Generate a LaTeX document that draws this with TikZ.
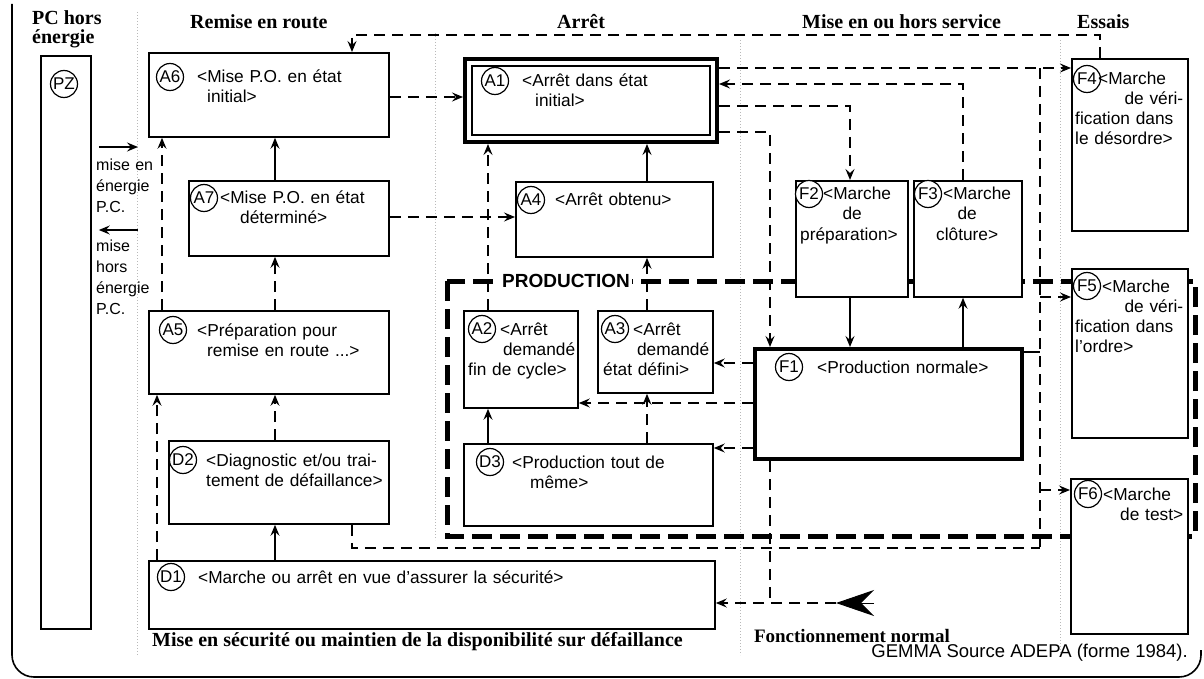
\documentclass[tikz,border=0pt]{standalone}
\usepackage{fontspec}
\setmainfont{Liberation Sans}
\newfontfamily\headfont{Liberation Serif}
\usetikzlibrary{arrows.meta,calc}

\tikzset{
  boite/.style={draw, line width=1.8pt, fill=white, anchor=north west, inner sep=0pt},
  etat/.style={draw, circle, line width=1.2pt, fill=white, inner sep=0pt, minimum size=27pt, font=\fontsize{17}{17}\selectfont},
  texte/.style={anchor=base west, align=left, inner sep=0pt, font=\fontsize{17.3}{20}\selectfont},
  titre/.style={anchor=base west, inner sep=0pt, font=\headfont\bfseries\fontsize{20}{18}\selectfont},
  flux/.style={line width=1.6pt, dash pattern=on 11pt off 7pt, -{Stealth[length=11pt,width=9pt,inset=4pt]}},
  plein/.style={line width=1.6pt, -{Stealth[length=11pt,width=9pt,inset=4pt]}},
  prod/.style={line width=5pt, dash pattern=on 20pt off 8pt},
  zone/.style={gray!55, dotted, line width=1pt}
}

\begin{document}
\begin{tikzpicture}[x=1pt,y=-1pt]
  \useasboundingbox (0,0) rectangle (1204,679);

  % cadre et zones
  \draw[line width=1.6pt, rounded corners=22pt] (12,4) -- (12,677) -- (1201,677) -- (1201,650);
  \draw[zone] (137,12) -- (137,655);
  \draw[zone] (435,33) -- (435,540);
  \draw[zone] (740,40) -- (740,655);
  \draw[zone] (1060,40) -- (1060,655);

  % titres des zones
  \node[titre] (tpz) at (32,25) {PC hors};
  \node[titre] (tpz2) at (32,44) {énergie};
  \node[titre] (tremise) at (190,29) {Remise en route};
  \node[titre] (tarret) at (557,29) {Arrêt};
  \node[titre] (tservice) at (802,29) {Mise en ou hors service};
  \node[titre] (tessais) at (1077,29) {Essais};
  \node[titre] (tsecu) at (152,646) {Mise en sécurité ou maintien de la disponibilité sur défaillance};
  \node[titre, anchor=base east, font=\headfont\bfseries\fontsize{19}{19}\selectfont] (tnormal) at (950,642) {Fonctionnement normal};
  \node[anchor=base east, inner sep=0pt, font=\fontsize{18.5}{18.5}\selectfont] (source) at (1188,657) {GEMMA Source ADEPA (forme 1984).};

  % zone production
  \draw[prod] (447,281) rectangle (1195,536);
  \node[fill=white, inner sep=2pt, font=\bfseries\fontsize{19}{19}\selectfont] (prodlab) at (566,281) {PRODUCTION};

  % colonnes et lignes des liaisons
  \coordinate (xa) at (162,0);
  \coordinate (xb) at (157,0);
  \coordinate (xc) at (275,0);
  \coordinate (xd) at (352,0);
  \coordinate (xe) at (488,0);
  \coordinate (xf) at (647,0);
  \coordinate (xg) at (770,0);
  \coordinate (xh) at (850,0);
  \coordinate (xi) at (963,0);
  \coordinate (xj) at (1040,0);
  \coordinate (xk) at (1100,0);
  \coordinate (ya) at (0,35);
  \coordinate (yb) at (0,68);
  \coordinate (yc) at (0,84);
  \coordinate (yd) at (0,97);
  \coordinate (ye) at (0,106);
  \coordinate (yf) at (0,132);
  \coordinate (yg) at (0,217);
  \coordinate (yh) at (0,297);
  \coordinate (yi) at (0,352);
  \coordinate (yj) at (0,363);
  \coordinate (yk) at (0,403);
  \coordinate (yl) at (0,448);
  \coordinate (ym) at (0,490);
  \coordinate (yn) at (0,548);
  \coordinate (yo) at (0,603);
  \coordinate (onEnd) at (138,147);
  \coordinate (offEnd) at (138,230);
  \coordinate (gtip) at (836,603);
  \coordinate (gtail) at (874,603);

  % rectangles d'etats
  \node[boite, minimum width=50pt, minimum height=573pt] (pz) at (40,55) {};
  \node[boite, minimum width=240pt, minimum height=84pt] (a6) at (148,52) {};
  \node[boite, minimum width=200pt, minimum height=75pt] (a7) at (188,180) {};
  \node[boite, minimum width=240pt, minimum height=83pt] (a5) at (148,310) {};
  \node[boite, minimum width=220pt, minimum height=83pt] (d2) at (168,440) {};
  \node[boite, minimum width=566pt, minimum height=68pt] (d1) at (148,560) {};
  \node[boite, line width=4pt, minimum width=252pt, minimum height=83pt] (a1) at (463,57) {};
  \draw[line width=1.3pt] ([xshift=9pt,yshift=-9pt]a1.north west) rectangle ([xshift=-9pt,yshift=9pt]a1.south east);
  \node[boite, minimum width=197pt, minimum height=75pt] (a4) at (515,181) {};
  \node[boite, minimum width=114pt, minimum height=97pt] (a2) at (463,310) {};
  \node[boite, minimum width=115pt, minimum height=82pt] (a3) at (597,310) {};
  \node[boite, minimum width=249pt, minimum height=82pt] (d3) at (463,443) {};
  \node[boite, minimum width=112pt, minimum height=116pt] (f2) at (795,180) {};
  \node[boite, minimum width=108pt, minimum height=116pt] (f3) at (913,180) {};
  \node[boite, line width=4pt, minimum width=267pt, minimum height=110pt] (f1) at (753,347) {};
  \node[boite, minimum width=116pt, minimum height=172pt] (f4) at (1071,58) {};
  \node[boite, minimum width=116pt, minimum height=169pt] (f5) at (1071,268) {};
  \node[boite, minimum width=117pt, minimum height=155pt] (f6) at (1070,478) {};

  % mise en / hors energie
  \draw[plein] ([xshift=7pt]pz.east |- onEnd) -- (onEnd);
  \draw[plein] (offEnd) -- ([xshift=7pt]pz.east |- offEnd);
  \node[texte, text width=62pt, font=\fontsize{16}{21}\selectfont] (ton) at (96,171) {mise en\\énergie\\P.C.};
  \node[texte, text width=62pt, font=\fontsize{16}{21}\selectfont] (toff) at (96,251) {mise\\hors\\énergie\\P.C.};

  % liaisons
  \draw[flux] (xk |- f4.north) |- (xd |- ya) -- (a6.north -| xd);
  \draw[flux] (a6.east |- yd) -- (a1.west |- yd);
  \draw[flux] (a7.east |- yg) -- (a4.west |- yg);
  \draw[plein] (a7.north -| xc) -- (a6.south -| xc);
  \draw[flux] (a5.north -| xc) -- (a7.south -| xc);
  \draw[flux] (a5.north -| xa) -- (a6.south -| xa);
  \draw[flux] (d2.north -| xc) -- (a5.south -| xc);
  \draw[flux] (d1.north -| xb) -- (a5.south -| xb);
  \draw[plein] (d1.north -| xc) -- (d2.south -| xc);
  \draw[flux] (a2.north -| xe) -- (a1.south -| xe);
  \draw[plein] (a4.north -| xf) -- (a1.south -| xf);
  \draw[flux] (a3.north -| xf) -- (a4.south -| xf);
  \draw[plein] (d3.north -| xe) -- (a2.south -| xe);
  \draw[flux] (d3.north -| xf) -- (a3.south -| xf);
  \draw[flux] (f1.west |- yj) -- (a3.east |- yj);
  \draw[flux] (f1.west |- yk) -- (a2.east |- yk);
  \draw[flux] (f1.west |- yl) -- (d3.east |- yl);
  \draw[flux] (a1.east |- ye) -| (f2.north -| xh);
  \draw[flux] (f3.north -| xi) |- (a1.east |- yc);
  \draw[flux] (a1.east |- yf) -| (f1.north -| xg);
  \draw[plein] (f2.south -| xh) -- (f1.north -| xh);
  \draw[plein] (f1.north -| xi) -- (f3.south -| xi);
  \draw[flux] (a1.east |- yb) -- (f4.west |- yb);
  \draw[flux,-] (xj |- yb) -- (xj |- yn);
  \draw[line width=1.6pt] (f1.east |- yi) -- (xj |- yi);
  \draw[flux,-] (d2.south -| xd) |- (xj |- yn);
  \draw[flux] (xj |- yh) -- (f5.west |- yh);
  \draw[flux] (xj |- ym) -- (f6.west |- ym);
  \draw[flux,-] (f1.south -| xg) -- (xg |- yo);
  \draw[-{Stealth[length=38pt,width=26pt,inset=13pt]}, line width=1pt] (gtail) -- (gtip);
  \draw[flux] (gtip) -- (d1.east |- gtip);

  % reperes des etats
  \node[etat] (pzc) at (64,84) {PZ};
  \node[etat] (a6c) at (170,77) {A6};
  \node[etat] (a7c) at (204,198) {A7};
  \node[etat] (a5c) at (173,330) {A5};
  \node[etat] (d2c) at (183,460) {D2};
  \node[etat] (d1c) at (171,577) {D1};
  \node[etat] (a1c) at (495,81) {A1};
  \node[etat] (a4c) at (531,200) {A4};
  \node[etat] (a2c) at (482,329) {A2};
  \node[etat] (a3c) at (615,329) {A3};
  \node[etat] (d3c) at (490,462) {D3};
  \node[etat] (f1c) at (789,367) {F1};
  \node[etat] (f2c) at (809,194) {F2};
  \node[etat] (f3c) at (928,194) {F3};
  \node[etat] (f4c) at (1087,79) {F4};
  \node[etat] (f5c) at (1087,286) {F5};
  \node[etat] (f6c) at (1088,494) {F6};

  % libelles des etats
  \node[texte, text width=185pt] (a6t) at (197,83) {<Mise P.O. en état\\\hspace*{10pt}initial>};
  \node[texte, text width=165pt] (a7t) at (220,204) {<Mise P.O. en état\\\hspace*{20pt}déterminé>};
  \node[texte, text width=185pt] (a5t) at (197,336) {<Préparation pour\\\hspace*{10pt}remise en route ...>};
  \node[texte, text width=180pt] (d2t) at (206,466) {<Diagnostic et/ou trai-\\tement de défaillance>};
  \node[texte, text width=500pt] (d1t) at (198,583) {<Marche ou arrêt en vue d'assurer la sécurité>};
  \node[texte, text width=180pt] (a1t) at (522,87) {<Arrêt dans état\\\hspace*{13pt}initial>};
  \node[texte, text width=150pt] (a4t) at (555,206) {<Arrêt obtenu>};
  \node[texte, text width=107pt] (a2t) at (468,335) {\hspace*{32pt}<Arrêt\\\hspace*{\fill}demandé\\fin de cycle>};
  \node[texte, text width=106pt] (a3t) at (603,335) {\hspace*{30pt}<Arrêt\\\hspace*{\fill}demandé\\état défini>};
  \node[texte, text width=195pt] (d3t) at (512,468) {<Production tout de\\\hspace*{18pt}même>};
  \node[texte, text width=195pt] (f1t) at (817,373) {<Production normale>};
  \node[texte, text width=104pt] (f2t) at (800,200) {\hspace*{23pt}<Marche\\\hspace*{\fill}de\hspace*{\fill}\null\\préparation>};
  \node[texte, text width=100pt] (f3t) at (917,200) {\hspace*{26pt}<Marche\\\hspace*{\fill}de\hspace*{\fill}\null\\\hspace*{\fill}clôture>\hspace*{\fill}\null};
  \node[texte, text width=108pt] (f4t) at (1075,85) {\hspace*{23pt}<Marche\\\hspace*{\fill}de véri-\\fication dans\\le désordre>};
  \node[texte, text width=108pt] (f5t) at (1075,292) {\hspace*{27pt}<Marche\\\hspace*{\fill}de véri-\\fication dans\\l'ordre>};
  \node[texte, text width=108pt] (f6t) at (1075,500) {\hspace*{28pt}<Marche\\\hspace*{\fill}de test>};
\end{tikzpicture}
\end{document}
